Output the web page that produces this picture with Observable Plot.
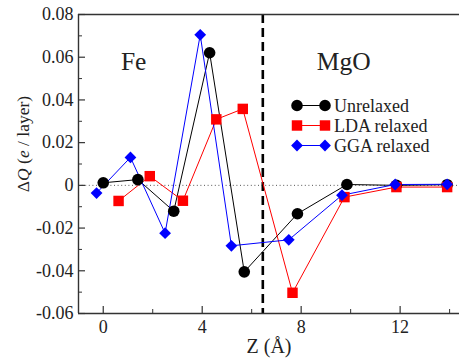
<!DOCTYPE html>
<html><head><meta charset="utf-8">
<script src="https://cdn.jsdelivr.net/npm/d3@7"></script>
<script src="https://cdn.jsdelivr.net/npm/@observablehq/plot@0.6"></script>
<style>
body{margin:0;background:#fff;font-family:"Liberation Serif"}
#chart{position:relative;width:459px;height:358px}
</style>
</head><body><div id="chart"></div>
<script>
// ---- data ----
const unrelaxedZ = [0, 1.4, 2.85, 4.3, 5.7, 7.85, 9.85, 11.85, 13.9];
const unrelaxedQ = [0.0012, 0.0027, -0.0121, 0.0621, -0.0405, -0.0133, 0.0004, 0.0, 0.0003];
const ldaZ = [0.62, 1.88, 3.22, 4.57, 5.64, 7.65, 9.75, 11.85, 13.9];
const ldaQ = [-0.0073, 0.0043, -0.0072, 0.0309, 0.0358, -0.0503, -0.0055, -0.0008, -0.0008];
const ggaZ = [-0.27, 1.1, 2.5, 3.92, 5.18, 7.5, 9.65, 11.8, 13.9];
const ggaQ = [-0.0036, 0.0131, -0.0224, 0.0705, -0.0283, -0.0255, -0.0046, 0.0004, 0.0005];
const seriesNames = ["Unrelaxed", "LDA relaxed", "GGA relaxed"];
const seriesColors = ["#000000", "#ff0000", "#0000ff"];
const seriesSymbols = ["circle", "square", "diamond2"];
const seriesR = [5.8, 5.9, 5.3];
const xDomain = [-1, 14.4];
const yDomain = [-0.06, 0.08];
const xMajor = [0, 4, 8, 12];
const xMinor = [2, 6, 10, 14];
const yMajor = [-0.06, -0.04, -0.02, 0, 0.02, 0.04, 0.06, 0.08];
const yMinor = [-0.05, -0.03, -0.01, 0.01, 0.03, 0.05, 0.07];
const interfaceZ = [6.45];
const regionLabels = [{text: "Fe", z: 1.23, q: 0.058}, {text: "MgO", z: 9.72, q: 0.058}];

const toRows = (zs, qs, s) => zs.map((z, i) => ({z, q: qs[i], s}));
const series = [
  toRows(unrelaxedZ, unrelaxedQ, 0),
  toRows(ldaZ, ldaQ, 1),
  toRows(ggaZ, ggaQ, 2)
];

const W = 459, H = 358, mL = 78, mR = 0, mT = 14, mB = 45;
const plotW = W - mL - mR, plotH = H - mT - mB;
const axisColor = "#333";
const textColor = "#222";
const FONT = "Liberation Serif";

const marks = [
  Plot.ruleY([0], {stroke: "#555", strokeWidth: 1, strokeDasharray: "1,2.6"}),
  Plot.ruleX(interfaceZ, {stroke: "#000", strokeWidth: 2.6, strokeDasharray: "9,5"}),
];
series.forEach((rows, i) => {
  marks.push(Plot.line(rows, {x: "z", y: "q", stroke: seriesColors[i], strokeWidth: 1}));
});
series.forEach((rows, i) => {
  marks.push(Plot.dot(rows, {x: "z", y: "q", fill: seriesColors[i], symbol: seriesSymbols[i], r: seriesR[i]}));
});
marks.push(
  Plot.ruleX([xDomain[0]], {stroke: axisColor, strokeWidth: 1.4}),
  Plot.ruleY(yDomain, {stroke: axisColor, strokeWidth: 1.4}),
  Plot.tickX(xMajor, {x: d => d, stroke: axisColor, strokeWidth: 1.2, insetTop: plotH - 7}),
  Plot.tickX(xMinor, {x: d => d, stroke: axisColor, strokeWidth: 1, insetTop: plotH - 4}),
  Plot.tickY(yMajor, {y: d => d, stroke: axisColor, strokeWidth: 1.2, insetRight: plotW - 7}),
  Plot.tickY(yMinor, {y: d => d, stroke: axisColor, strokeWidth: 1, insetRight: plotW - 4}),
  Plot.axisX(xMajor, {tickSize: 0, tickPadding: 7, label: null, fontSize: 18, color: textColor, fontFamily: FONT}),
  Plot.axisY(yMajor, {tickSize: 0, tickPadding: 5, label: null, fontSize: 18, color: textColor, fontFamily: FONT,
    tickFormat: d => d === 0 ? "0" : d.toFixed(2)}),
  Plot.text(regionLabels, {x: "z", y: "q", text: "text", fontSize: 25.5, fill: textColor, textAnchor: "middle", fontFamily: FONT}),
  Plot.text(["Z (Å)"], {frameAnchor: "bottom", dy: 33.5, lineAnchor: "middle", fontSize: 20, fill: textColor, fontFamily: FONT})
);

const chart = Plot.plot({
  width: W, height: H,
  marginLeft: mL, marginRight: mR, marginTop: mT, marginBottom: mB,
  x: {domain: xDomain},
  y: {domain: yDomain},
  style: {fontFamily: FONT, fontSize: "18px", color: textColor, background: "#fff", overflow: "visible"},
  marks
});

const svg = d3.select(chart);
const yl = svg.append("text")
  .attr("transform", "translate(29,144) rotate(-90)")
  .attr("text-anchor", "middle")
  .attr("font-size", 17.5)
  .attr("fill", textColor)
  .attr("font-family", FONT);
yl.append("tspan").text("Δ");
yl.append("tspan").attr("font-style", "italic").text("Q");
yl.append("tspan").text(" (");
yl.append("tspan").attr("font-style", "italic").text("e");
yl.append("tspan").text(" / layer)");

const legendY = [105.5, 125.5, 145.5];
const lg = svg.append("g").attr("font-family", FONT).attr("font-size", 18).attr("fill", textColor).attr("text-anchor", "start");
seriesNames.forEach((name, i) => {
  const y = legendY[i];
  lg.append("line").attr("x1", 297).attr("x2", 325).attr("y1", y).attr("y2", y)
    .attr("stroke", seriesColors[i]).attr("stroke-width", 1);
  const sym = {circle: d3.symbolCircle, square: d3.symbolSquare, diamond2: d3.symbolDiamond2}[seriesSymbols[i]];
  const path = d3.symbol(sym, Math.PI * seriesR[i] * seriesR[i])();
  [297, 325].forEach(x => lg.append("path").attr("d", path).attr("transform", `translate(${x},${y})`).attr("fill", seriesColors[i]));
  lg.append("text").attr("x", 334).attr("y", y).attr("dy", "0.34em").attr("text-anchor", "start").text(name);
});

document.getElementById("chart").appendChild(chart);
</script>
</body></html>
